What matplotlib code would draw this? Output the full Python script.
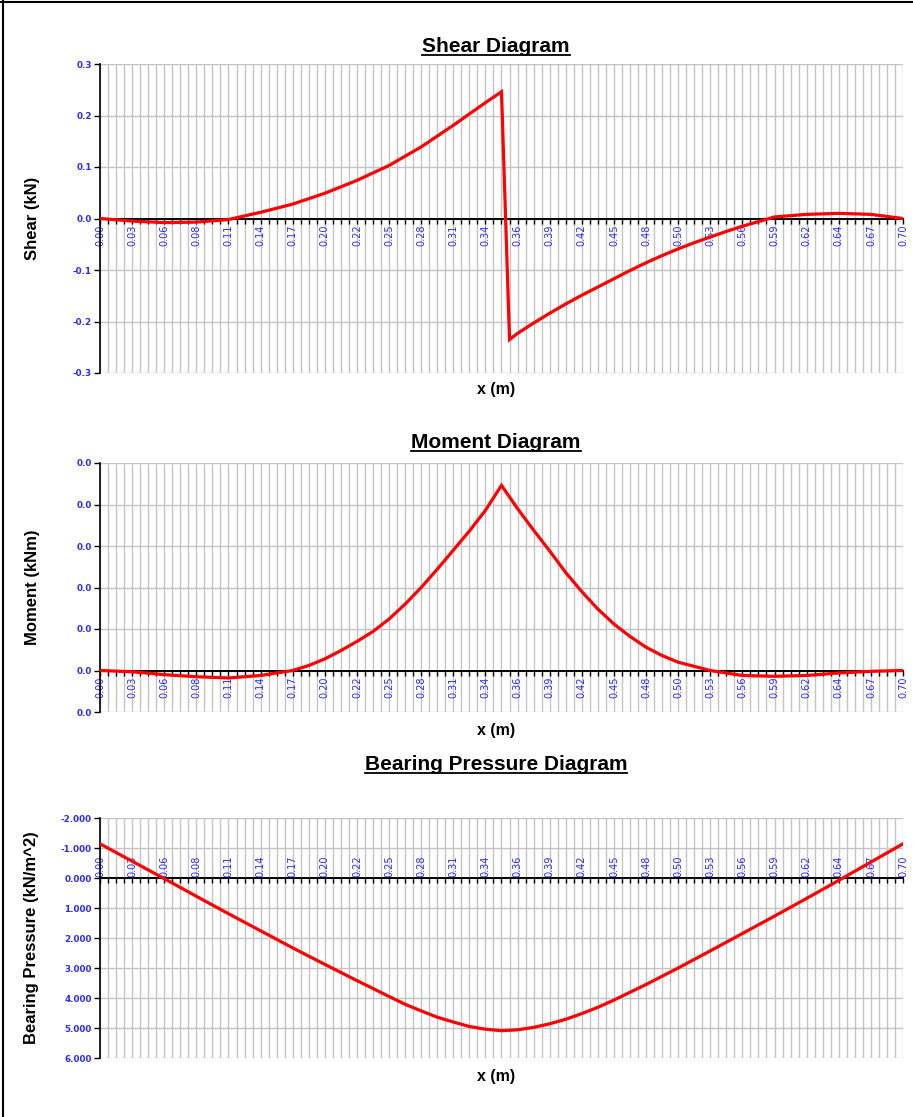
"""
Shear, moment and bearing pressure diagrams for a footing strip,
drawn Excel-style on a category axis (0.007 m spacing).
"""

import matplotlib
matplotlib.use("Agg")
import matplotlib.pyplot as plt
import numpy as np
from matplotlib.lines import Line2D

W, H = 913, 1117

# x categories: 101 points, 0.007 m apart, every 4th one labelled
X_STEP = 0.007
N_POINTS = 101
X_TICK_LABELS = ["0.00", "0.03", "0.06", "0.08", "0.11", "0.14", "0.17", "0.20", "0.22",
                 "0.25", "0.28", "0.31", "0.34", "0.36", "0.39", "0.42", "0.45", "0.48",
                 "0.50", "0.53", "0.56", "0.59", "0.62", "0.64", "0.67", "0.70"]

# shear (kN)
SHEAR_X = [0.000, 0.028, 0.056, 0.084, 0.112, 0.140, 0.168, 0.196, 0.224, 0.252, 0.280,
           0.308, 0.322, 0.336, 0.350, 0.357, 0.364, 0.378, 0.392, 0.406, 0.420, 0.434,
           0.448, 0.462, 0.476, 0.490, 0.504, 0.518, 0.532, 0.546, 0.560, 0.588, 0.616,
           0.644, 0.672, 0.700]
SHEAR_KN = [0.0, -0.005, -0.008, -0.007, -0.002, 0.012, 0.028, 0.049, 0.074, 0.103, 0.139,
            0.181, 0.203, 0.225, 0.246, -0.235, -0.223, -0.203, -0.184, -0.166, -0.149,
            -0.133, -0.117, -0.101, -0.086, -0.072, -0.059, -0.047, -0.036, -0.025, -0.015,
            0.003, 0.008, 0.010, 0.008, 0.0]
SHEAR_YTICKS = [-0.3, -0.2, -0.1, 0.0, 0.1, 0.2, 0.3]
SHEAR_YLABELS = ["-0.3", "-0.2", "-0.1", "0.0", "0.1", "0.2", "0.3"]

# moment (kNm)
MOMENT_X = [0.000, 0.028, 0.056, 0.084, 0.112, 0.140, 0.168, 0.182, 0.196, 0.210, 0.224,
            0.238, 0.252, 0.266, 0.280, 0.294, 0.308, 0.322, 0.336, 0.350, 0.364, 0.378,
            0.392, 0.406, 0.420, 0.434, 0.448, 0.462, 0.476, 0.490, 0.504, 0.532, 0.560,
            0.588, 0.616, 0.644, 0.672, 0.700]
MOMENT_KNM = [0.0, -0.00015, -0.0005, -0.00075, -0.0009, -0.0006, 0.0, 0.0006, 0.0014,
              0.0024, 0.0035, 0.0047, 0.0062, 0.0080, 0.0100, 0.0122, 0.0145, 0.0168,
              0.0193, 0.0223, 0.0195, 0.0169, 0.0144, 0.0118, 0.0095, 0.0074, 0.0056,
              0.0041, 0.0028, 0.0018, 0.0010, 0.0, -0.0006, -0.0007, -0.0006, -0.0003,
              -0.0001, 0.0]
MOMENT_YTICKS = [-0.005, 0.0, 0.005, 0.010, 0.015, 0.020, 0.025]
MOMENT_YLABELS = ["0.0"] * 7

# bearing pressure (kN/m^2)
PRESSURE_X = [0.000, 0.028, 0.056, 0.084, 0.112, 0.140, 0.168, 0.196, 0.224, 0.252, 0.266,
              0.280, 0.294, 0.308, 0.322, 0.336, 0.350, 0.364, 0.378, 0.392, 0.406, 0.420,
              0.434, 0.448, 0.476, 0.504, 0.532, 0.560, 0.588, 0.616, 0.644, 0.672, 0.700]
PRESSURE_KPA = [-1.14, -0.56, 0.02, 0.61, 1.19, 1.76, 2.33, 2.88, 3.42, 3.95, 4.21, 4.43,
                4.64, 4.80, 4.95, 5.04, 5.09, 5.06, 4.98, 4.86, 4.71, 4.52, 4.31, 4.07,
                3.55, 3.00, 2.43, 1.85, 1.27, 0.68, 0.08, -0.53, -1.14]
PRESSURE_YTICKS = [-2, -1, 0, 1, 2, 3, 4, 5, 6]
PRESSURE_YLABELS = ["-2.000", "-1.000", "0.000", "1.000", "2.000", "3.000", "4.000",
                    "5.000", "6.000"]

BLUE = "#2b2bff"
GRID = "#c4c4c4"
LABEL_FONT = ["Liberation Sans", "DejaVu Sans"]

fig = plt.figure(figsize=(W / 100, H / 100), dpi=100)


def panel(top, bottom, x, y, yticks, ylabels, ylabel, inverted=False):
    ax = fig.add_axes([100 / W, 1 - bottom / H, 803 / W, (bottom - top) / H])
    ax.set_xlim(0, (N_POINTS - 1) * X_STEP)
    ax.set_ylim(yticks[0], yticks[-1])
    if inverted:
        ax.invert_yaxis()
    ax.set_axisbelow(True)

    ax.set_xticks(np.arange(0, N_POINTS, 4) * X_STEP)
    ax.set_xticklabels(X_TICK_LABELS)
    ax.set_xticks(np.arange(N_POINTS) * X_STEP, minor=True)
    ax.set_yticks(yticks)
    ax.set_yticklabels(ylabels)
    ax.grid(True, which="both", axis="x", color=GRID, lw=1)
    ax.grid(True, which="major", axis="y", color=GRID, lw=1)

    ax.spines["right"].set_visible(False)
    ax.spines["left"].set_color("black")
    ax.spines["left"].set_linewidth(1.2)
    zero_side = "top" if inverted else "bottom"
    other = "bottom" if inverted else "top"
    ax.spines[other].set_visible(False)
    ax.spines[zero_side].set_position(("data", 0))
    ax.spines[zero_side].set_linewidth(1.4)
    ax.spines[zero_side].set_zorder(2.6)
    if inverted:
        ax.xaxis.set_ticks_position("top")

    ax.tick_params(axis="x", which="both", direction="in" if inverted else "out",
                   length=3.5, width=1, colors="black")
    ax.tick_params(axis="x", which="major", labelsize=7, labelcolor=BLUE,
                   labelrotation=90, pad=1)
    ax.tick_params(axis="y", direction="out", length=4, width=1, labelsize=6.3,
                   labelcolor=BLUE, pad=2)
    for lab in ax.get_xticklabels() + ax.get_yticklabels():
        lab.set_family("DejaVu Sans")
    for lab in ax.get_yticklabels():
        lab.set_fontweight("bold")

    ax.plot(x, y, color="#ff0000", lw=2.3, zorder=3, solid_joinstyle="miter")
    fig.text(32 / W, 1 - (top + bottom) / 2 / H, ylabel, rotation=90, ha="center",
             va="center", fontsize=12, fontweight="bold", family=LABEL_FONT)
    return ax


panel(64, 373, SHEAR_X, SHEAR_KN, SHEAR_YTICKS, SHEAR_YLABELS, "Shear (kN)")
panel(463, 712, MOMENT_X, MOMENT_KNM, MOMENT_YTICKS, MOMENT_YLABELS, "Moment (kNm)")
panel(818, 1058, PRESSURE_X, PRESSURE_KPA, PRESSURE_YTICKS, PRESSURE_YLABELS,
      "Bearing Pressure (kN/m^2)", inverted=True)

titles = [("Shear Diagram", 47), ("Moment Diagram", 443), ("Bearing Pressure Diagram", 765)]
title_texts = [fig.text(496 / W, 1 - yc / H, t, ha="center", va="center", fontsize=15,
                        fontweight="bold", family=LABEL_FONT) for t, yc in titles]
for yc in (390, 730, 1077):
    fig.text(496 / W, 1 - yc / H, "x (m)", ha="center", va="center", fontsize=11.5,
             fontweight="bold", family=LABEL_FONT)

# underline the titles
fig.canvas.draw()
r = fig.canvas.get_renderer()
for t in title_texts:
    bb = t.get_window_extent(r)
    yl = (bb.y0 + 2) / H
    fig.add_artist(Line2D([bb.x0 / W, bb.x1 / W], [yl, yl], color="black", lw=1.3))

# page border (top and left only)
fig.add_artist(Line2D([0, 1], [1 - 2 / H] * 2, color="black", lw=1.5))
fig.add_artist(Line2D([3 / W] * 2, [0, 1], color="black", lw=1.5))

fig.savefig("out.png", dpi=100)
